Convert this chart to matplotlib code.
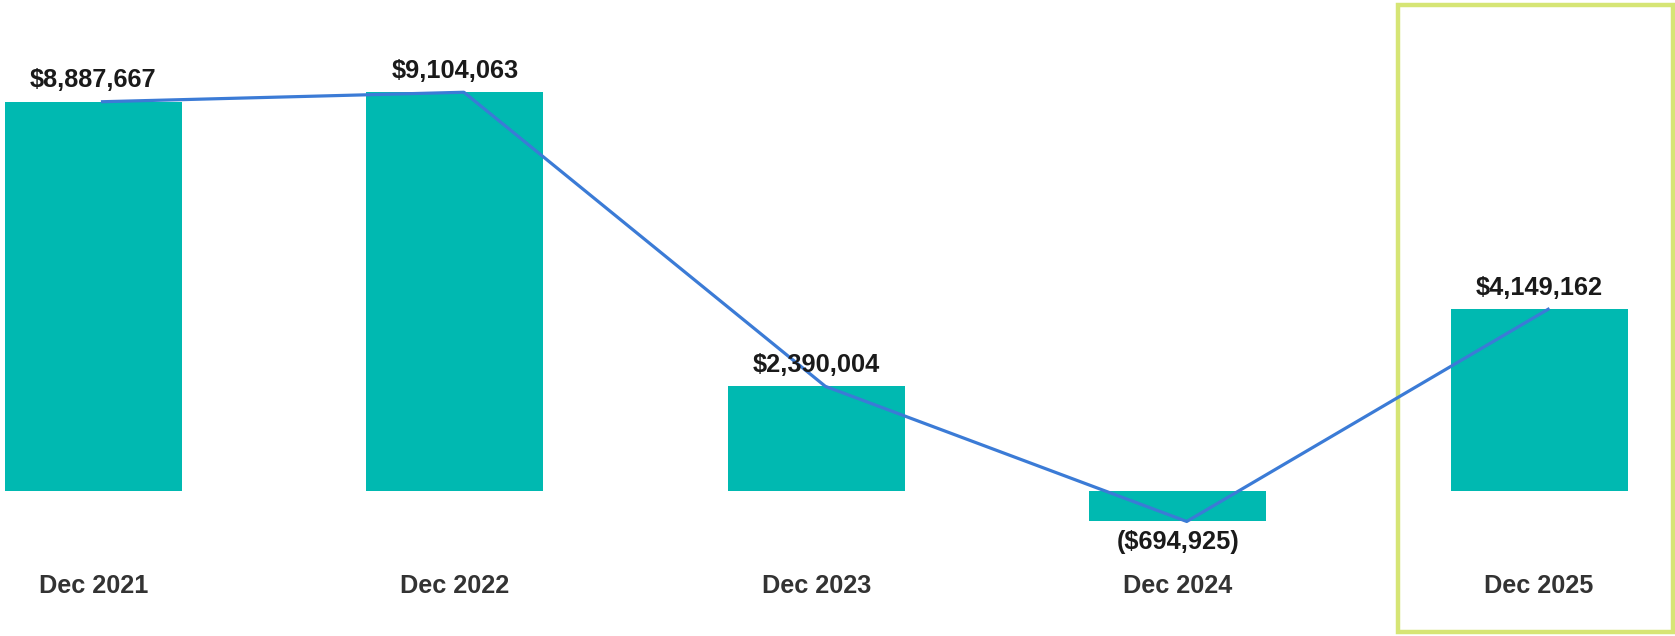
import matplotlib
matplotlib.use('Agg')
import matplotlib.pyplot as plt
import matplotlib.transforms as mtransforms
from matplotlib.patches import Rectangle

periods = ['Dec 2021', 'Dec 2022', 'Dec 2023', 'Dec 2024', 'Dec 2025']
values = [8887667, 9104063, 2390004, -694925, 4149162]
value_labels = ['$8,887,667', '$9,104,063', '$2,390,004', '($694,925)', '$4,149,162']

plt.rcParams['font.family'] = ['Liberation Sans', 'DejaVu Sans']

fig = plt.figure(figsize=(16.75, 6.36), dpi=100)
ax = fig.add_axes([0, 0, 1, 1])

x = list(range(len(periods)))
ax.bar(x, values, width=0.49, color='#00b9b1', zorder=2)

# trend line sits a touch right of the bar centres
line_x = [i + 0.025 for i in x]
ax.plot(line_x, values, color='#3b7bd6', linewidth=2.3, zorder=3)

for xi, v, lab in zip(x, values, value_labels):
    dy = 15.5 if v >= 0 else -15
    ax.annotate(lab, (xi, v), textcoords='offset points', xytext=(0, dy),
                ha='center', va='center', fontsize=18.3, fontweight='bold',
                color='#1a1a1a', zorder=4)

trans = mtransforms.blended_transform_factory(ax.transData, ax.transAxes)
for xi, p in zip(x, periods):
    ax.text(xi, 0.078, p, transform=trans, ha='center', va='center',
            fontsize=18.2, fontweight='bold', color='#333333')

# highlight frame around the forecast year
ax.add_patch(Rectangle((3.61, 0.0065), 0.76, 0.9855, transform=trans,
                       fill=False, edgecolor='#d6e575', linewidth=3.2,
                       clip_on=False, zorder=1))

ax.set_xlim(-0.2587, 4.376)
ax.set_ylim(-3.31e6, 11.21e6)
ax.axis('off')

fig.savefig('out.png', dpi=100)
